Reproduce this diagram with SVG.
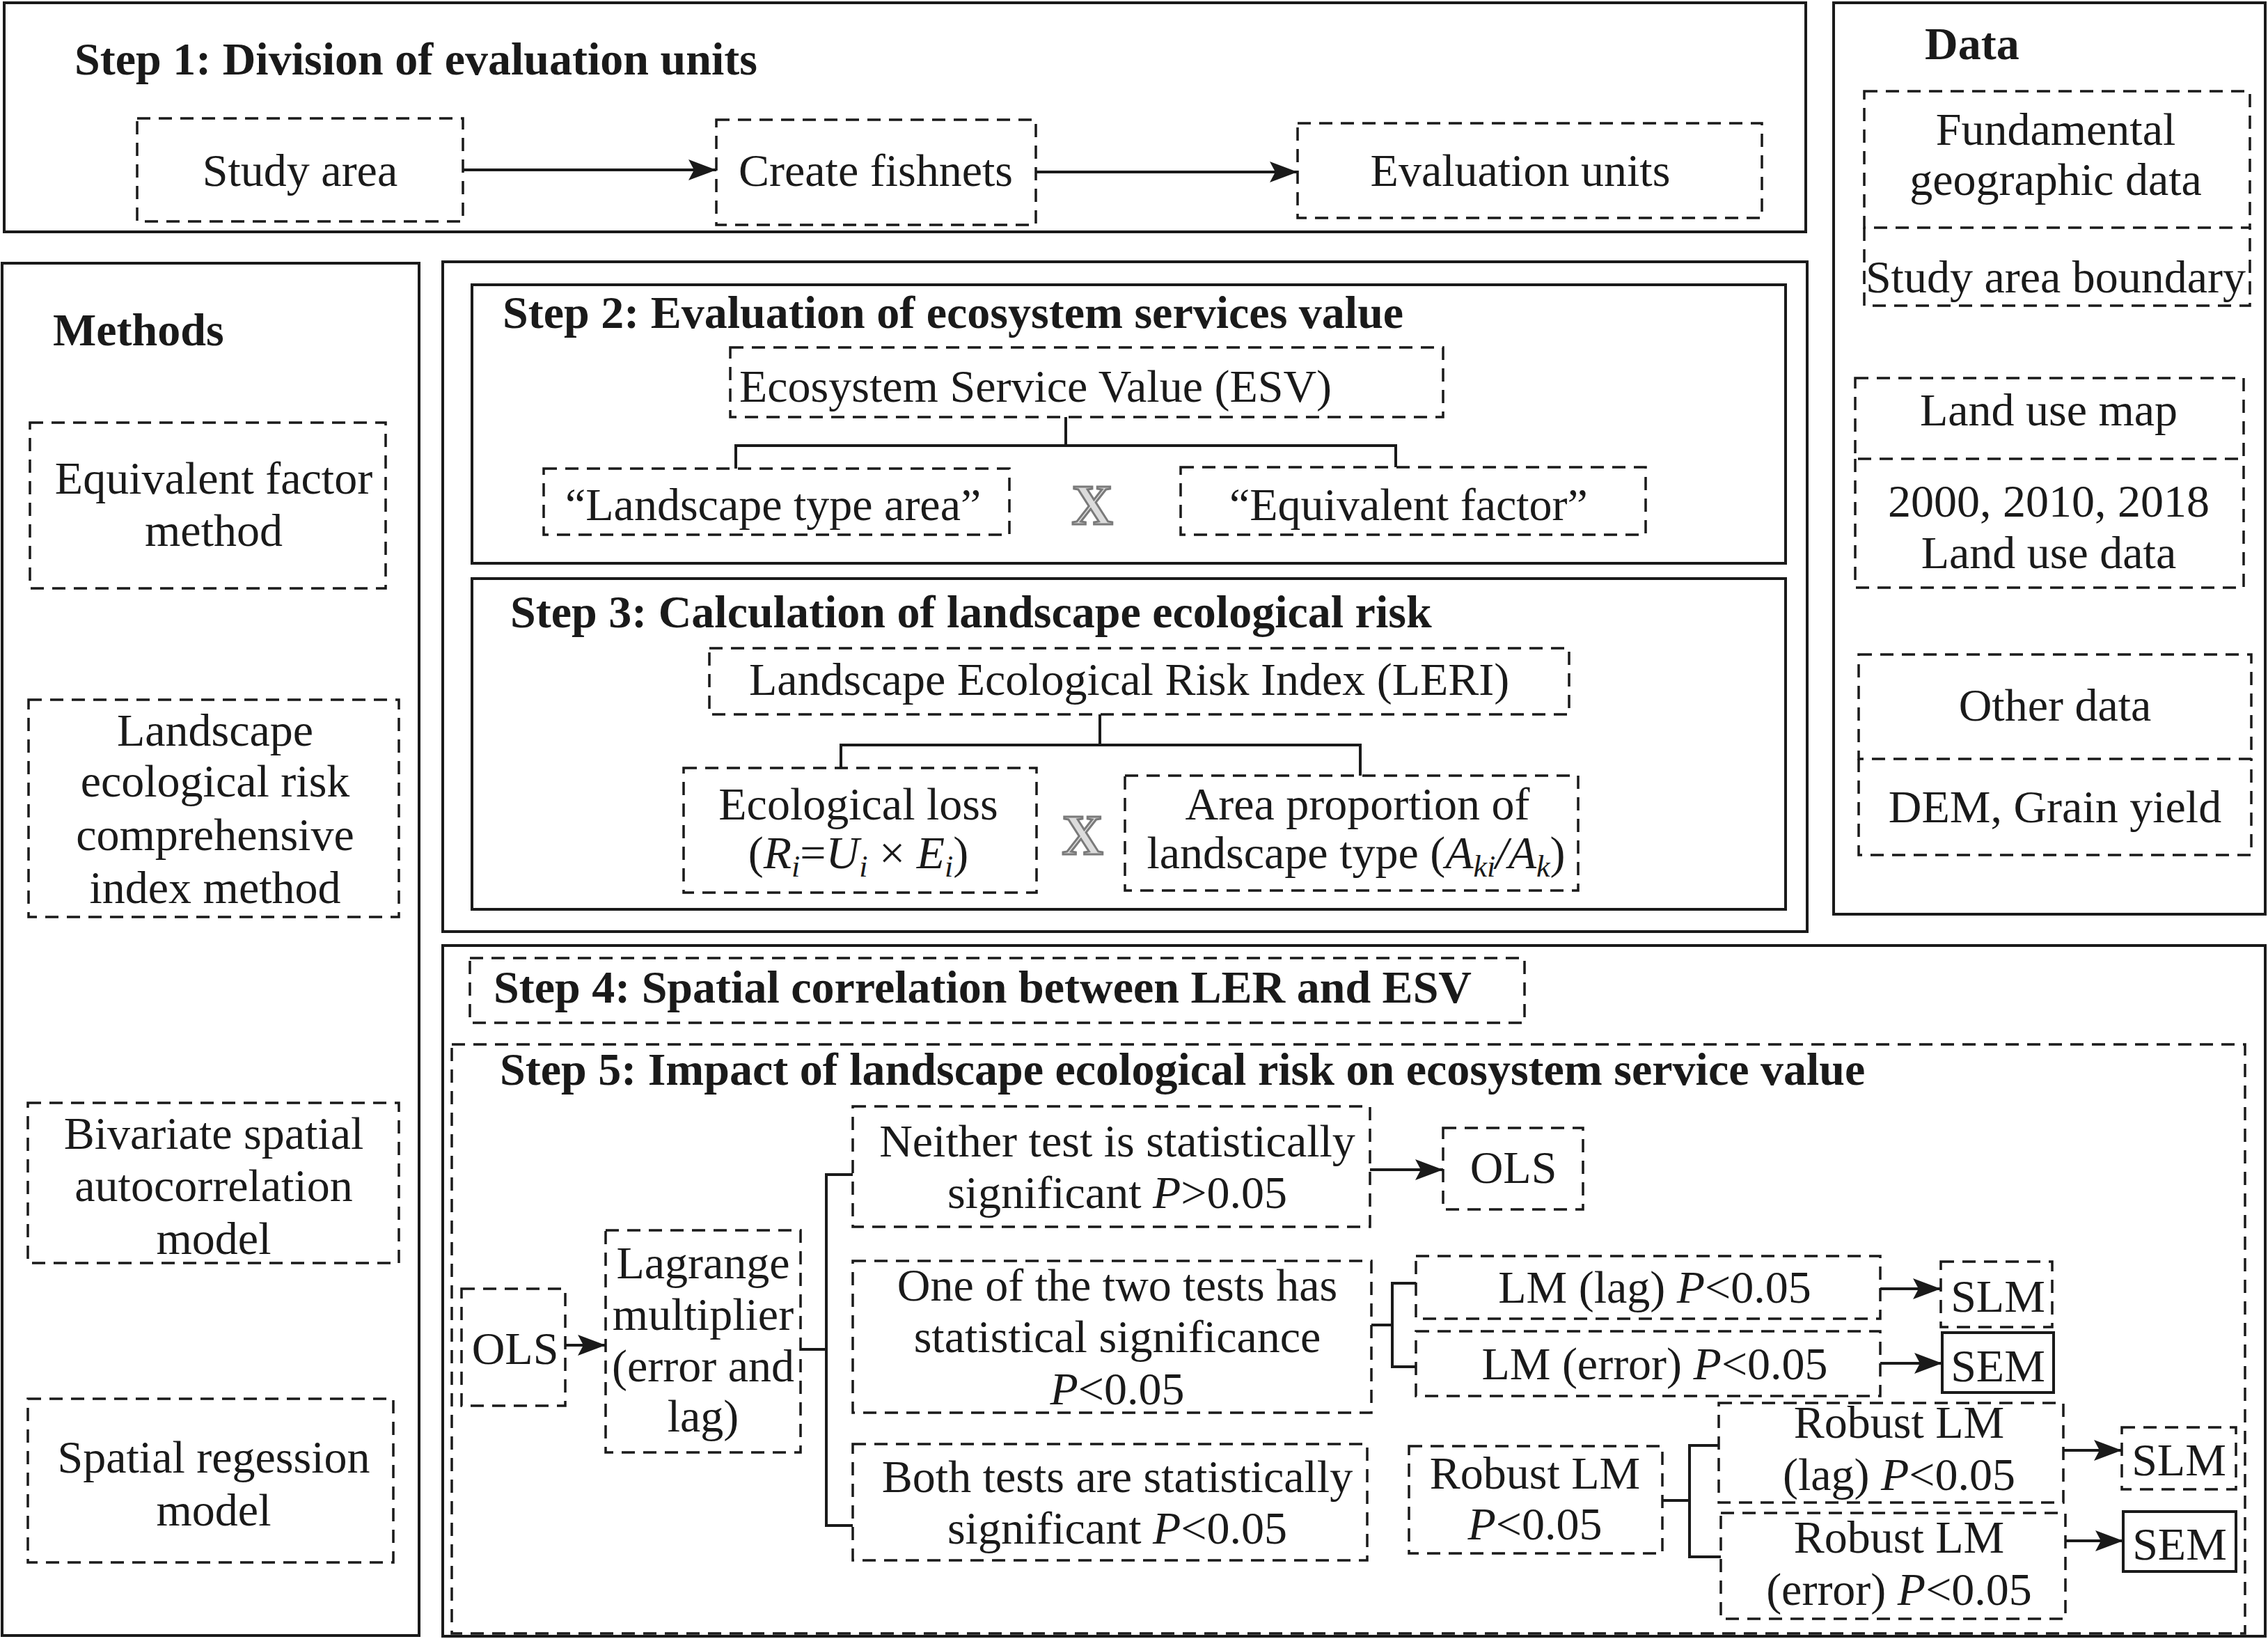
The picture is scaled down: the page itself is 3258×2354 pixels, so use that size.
<svg xmlns="http://www.w3.org/2000/svg" width="3258" height="2354" viewBox="0 0 3258 2354">
<style>
.t{font-family:"Liberation Serif","Times New Roman",serif;font-size:66px;fill:#1a1a1a}
.b{font-weight:bold}
.c{text-anchor:middle}
.i{font-style:italic}
.sub{font-size:44px}
.solid{fill:none;stroke:#1a1a1a;stroke-width:4}
.dash{fill:none;stroke:#1a1a1a;stroke-width:3.5;stroke-dasharray:19 12}
.conn{fill:none;stroke:#1a1a1a;stroke-width:4}
.mul{font-family:"Liberation Serif","Times New Roman",serif;font-weight:bold;font-size:82px;fill:#dcdcdc;stroke:#7a7a7a;stroke-width:3;text-anchor:middle}
</style>
<defs>
<marker id="ah" viewBox="0 0 40 30" refX="40" refY="15" markerWidth="40" markerHeight="30" markerUnits="userSpaceOnUse" orient="auto">
<path d="M0,0 L40,15 L0,30 L8,15 z" fill="#1a1a1a"/>
</marker>
</defs>
<rect width="3258" height="2354" fill="#fff"/>

<!-- Frames -->
<g id="step1">
<rect class="solid" x="6" y="4" width="2588" height="329"/>
<text class="t b" x="107" y="107">Step 1: Division of evaluation units</text>
</g>
<g id="data">
<rect class="solid" x="2634" y="4" width="620" height="1309"/>
<text class="t b" x="2765" y="85">Data</text>
</g>
<g id="methods">
<rect class="solid" x="3" y="378" width="599" height="1971"/>
<text class="t b" x="76" y="496">Methods</text>
</g>
<g id="steps23">
<rect class="solid" x="636" y="376" width="1960" height="962"/>
</g>
<g id="step2">
<rect class="solid" x="678" y="409" width="1887" height="400"/>
<text class="t b" x="722" y="471">Step 2: Evaluation of ecosystem services value</text>
</g>
<g id="step3">
<rect class="solid" x="678" y="831" width="1887" height="475"/>
<text class="t b" x="733" y="901">Step 3: Calculation of landscape ecological risk</text>
</g>
<g id="steps45">
<rect class="solid" x="636" y="1358" width="2618" height="992"/>
</g>
<g id="step4">
<rect class="dash" x="675" y="1376" width="1515" height="93"/>
<text class="t b" x="709" y="1440">Step 4: Spatial correlation between LER and ESV</text>
</g>
<g id="step5">
<rect class="dash" x="649" y="1500" width="2576" height="846"/>
<text class="t b" x="718" y="1558">Step 5: Impact of landscape ecological risk on ecosystem service value</text>
</g>

<!-- Step 1 nodes -->
<g id="study-area">
<rect class="dash" x="197" y="170" width="468" height="148"/>
<text class="t c" x="431" y="267">Study area</text>
</g>
<g id="create-fishnets">
<rect class="dash" x="1029" y="172" width="459" height="151"/>
<text class="t c" x="1258" y="267">Create fishnets</text>
</g>
<g id="evaluation-units">
<rect class="dash" x="1864" y="177" width="667" height="136"/>
<text class="t c" x="2184" y="267">Evaluation units</text>
</g>

<!-- Data nodes -->
<g id="fundamental">
<rect class="dash" x="2678" y="131" width="554" height="196"/>
<text class="t c" x="2953" y="208">Fundamental</text>
<text class="t c" x="2953" y="280">geographic data</text>
</g>
<g id="boundary">
<path class="dash" d="M2678,327 V439 H3232 V327"/>
<text class="t c" x="2953" y="420">Study area boundary</text>
</g>
<g id="landuse-map">
<rect class="dash" x="2665" y="543" width="558" height="116"/>
<text class="t c" x="2943" y="611">Land use map</text>
</g>
<g id="landuse-data">
<path class="dash" d="M2665,659 V844 H3223 V659"/>
<text class="t c" x="2943" y="742">2000, 2010, 2018</text>
<text class="t c" x="2943" y="816">Land use data</text>
</g>
<g id="other-data">
<rect class="dash" x="2670" y="940" width="564" height="150"/>
<text class="t c" x="2952" y="1035">Other data</text>
</g>
<g id="dem">
<path class="dash" d="M2670,1090 V1228 H3234 V1090"/>
<text class="t c" x="2952" y="1181">DEM, Grain yield</text>
</g>

<!-- Methods nodes -->
<g id="m-equivalent">
<rect class="dash" x="43" y="607" width="511" height="238"/>
<text class="t c" x="307" y="709">Equivalent factor</text>
<text class="t c" x="307" y="784">method</text>
</g>
<g id="m-landscape">
<rect class="dash" x="41" y="1005" width="532" height="312"/>
<text class="t c" x="309" y="1071">Landscape</text>
<text class="t c" x="309" y="1144">ecological risk</text>
<text class="t c" x="309" y="1221">comprehensive</text>
<text class="t c" x="309" y="1297">index method</text>
</g>
<g id="m-bivariate">
<rect class="dash" x="40" y="1584" width="533" height="230"/>
<text class="t c" x="307" y="1650">Bivariate spatial</text>
<text class="t c" x="307" y="1725">autocorrelation</text>
<text class="t c" x="307" y="1801">model</text>
</g>
<g id="m-regression">
<rect class="dash" x="40" y="2009" width="525" height="235"/>
<text class="t c" x="307" y="2115">Spatial regession</text>
<text class="t c" x="307" y="2191">model</text>
</g>

<!-- Step 2 nodes -->
<g id="esv">
<rect class="dash" x="1049" y="499" width="1024" height="100"/>
<text class="t" x="1062" y="577">Ecosystem Service Value (ESV)</text>
</g>
<g id="landscape-area">
<rect class="dash" x="781" y="673" width="669" height="95"/>
<text class="t" x="812" y="747">“Landscape type area”</text>
</g>
<text class="mul" x="1569" y="753">X</text>
<g id="equivalent-factor">
<rect class="dash" x="1696" y="671" width="668" height="97"/>
<text class="t" x="1766" y="747">“Equivalent factor”</text>
</g>

<!-- Step 3 nodes -->
<g id="leri">
<rect class="dash" x="1019" y="931" width="1235" height="95"/>
<text class="t" x="1076" y="998">Landscape Ecological Risk Index (LERI)</text>
</g>
<g id="eco-loss">
<rect class="dash" x="982" y="1103" width="507" height="179"/>
<text class="t c" x="1233" y="1177">Ecological loss</text>
<text class="t c" x="1233" y="1247">(<tspan class="i">R</tspan><tspan class="i sub" dy="12">i</tspan><tspan dy="-12">=</tspan><tspan class="i">U</tspan><tspan class="i sub" dy="12">i</tspan><tspan dy="-12"> × </tspan><tspan class="i">E</tspan><tspan class="i sub" dy="12">i</tspan><tspan dy="-12">)</tspan></text>
</g>
<text class="mul" x="1555" y="1227">X</text>
<g id="area-proportion">
<rect class="dash" x="1616" y="1114" width="651" height="165"/>
<text class="t c" x="1950" y="1177">Area proportion of</text>
<text class="t c" x="1948" y="1247">landscape type (<tspan class="i">A</tspan><tspan class="i sub" dy="12">ki</tspan><tspan class="i" dy="-12">/A</tspan><tspan class="i sub" dy="12">k</tspan><tspan dy="-12">)</tspan></text>
</g>

<!-- Step 5 nodes -->
<g id="ols-1">
<rect class="dash" x="663" y="1851" width="149" height="168"/>
<text class="t c" x="740" y="1959">OLS</text>
</g>
<g id="lagrange">
<rect class="dash" x="870" y="1767" width="280" height="319"/>
<text class="t c" x="1010" y="1836">Lagrange</text>
<text class="t c" x="1010" y="1910">multiplier</text>
<text class="t c" x="1010" y="1984">(error and</text>
<text class="t c" x="1010" y="2056">lag)</text>
</g>
<g id="neither">
<rect class="dash" x="1225" y="1589" width="743" height="173"/>
<text class="t c" x="1605" y="1661">Neither test is statistically</text>
<text class="t c" x="1605" y="1735">significant <tspan class="i">P</tspan>&gt;0.05</text>
</g>
<g id="one-of-two">
<rect class="dash" x="1225" y="1811" width="745" height="218"/>
<text class="t c" x="1605" y="1868">One of the two tests has</text>
<text class="t c" x="1605" y="1942">statistical significance</text>
<text class="t c" x="1605" y="2017"><tspan class="i">P</tspan>&lt;0.05</text>
</g>
<g id="both">
<rect class="dash" x="1225" y="2074" width="739" height="167"/>
<text class="t c" x="1605" y="2143">Both tests are statistically</text>
<text class="t c" x="1605" y="2217">significant <tspan class="i">P</tspan>&lt;0.05</text>
</g>
<g id="ols-2">
<rect class="dash" x="2073" y="1620" width="201" height="117"/>
<text class="t c" x="2174" y="1699">OLS</text>
</g>
<g id="lm-lag">
<rect class="dash" x="2034" y="1804" width="667" height="90"/>
<text class="t c" x="2377" y="1871">LM (lag) <tspan class="i">P</tspan>&lt;0.05</text>
</g>
<g id="lm-error">
<rect class="dash" x="2034" y="1912" width="667" height="93"/>
<text class="t c" x="2377" y="1981">LM (error) <tspan class="i">P</tspan>&lt;0.05</text>
</g>
<g id="slm-1">
<rect class="dash" x="2788" y="1812" width="160" height="94"/>
<text class="t c" x="2870" y="1884">SLM</text>
</g>
<g id="sem-1">
<rect class="solid" x="2790" y="1914" width="160" height="86"/>
<text class="t c" x="2870" y="1984">SEM</text>
</g>
<g id="robust-lm">
<rect class="dash" x="2024" y="2077" width="364" height="154"/>
<text class="t c" x="2205" y="2138">Robust LM</text>
<text class="t c" x="2205" y="2211"><tspan class="i">P</tspan>&lt;0.05</text>
</g>
<g id="robust-lag">
<rect class="dash" x="2469" y="2015" width="495" height="143"/>
<text class="t c" x="2728" y="2065">Robust LM</text>
<text class="t c" x="2728" y="2140">(lag) <tspan class="i">P</tspan>&lt;0.05</text>
</g>
<g id="robust-error">
<rect class="dash" x="2472" y="2173" width="495" height="152"/>
<text class="t c" x="2728" y="2230">Robust LM</text>
<text class="t c" x="2728" y="2305">(error) <tspan class="i">P</tspan>&lt;0.05</text>
</g>
<g id="slm-2">
<rect class="dash" x="3048" y="2050" width="164" height="89"/>
<text class="t c" x="3130" y="2119">SLM</text>
</g>
<g id="sem-2">
<rect class="solid" x="3050" y="2171" width="162" height="86"/>
<text class="t c" x="3131" y="2240">SEM</text>
</g>

<!-- Connectors -->
<g id="connectors">
<line class="conn" x1="665" y1="244" x2="1029" y2="244" marker-end="url(#ah)"/>
<line class="conn" x1="1488" y1="247" x2="1864" y2="247" marker-end="url(#ah)"/>
<path class="conn" d="M1531,599 V640 M1057,673 V640 H2005 V671"/>
<path class="conn" d="M1580,1026 V1070 M1208,1103 V1070 H1954 V1114"/>
<line class="conn" x1="812" y1="1932" x2="870" y2="1932" marker-end="url(#ah)"/>
<path class="conn" d="M1150,1938 H1187 M1225,1687 H1187 V2191 H1225"/>
<line class="conn" x1="1968" y1="1680" x2="2073" y2="1680" marker-end="url(#ah)"/>
<path class="conn" d="M1970,1903 H2000 M2034,1843 H2000 V1963 H2034"/>
<line class="conn" x1="2701" y1="1851" x2="2788" y2="1851" marker-end="url(#ah)"/>
<line class="conn" x1="2701" y1="1958" x2="2790" y2="1958" marker-end="url(#ah)"/>
<path class="conn" d="M2388,2155 H2427 M2469,2076 H2427 V2236 H2472"/>
<line class="conn" x1="2964" y1="2083" x2="3048" y2="2083" marker-end="url(#ah)"/>
<line class="conn" x1="2967" y1="2213" x2="3050" y2="2213" marker-end="url(#ah)"/>
</g>
</svg>
